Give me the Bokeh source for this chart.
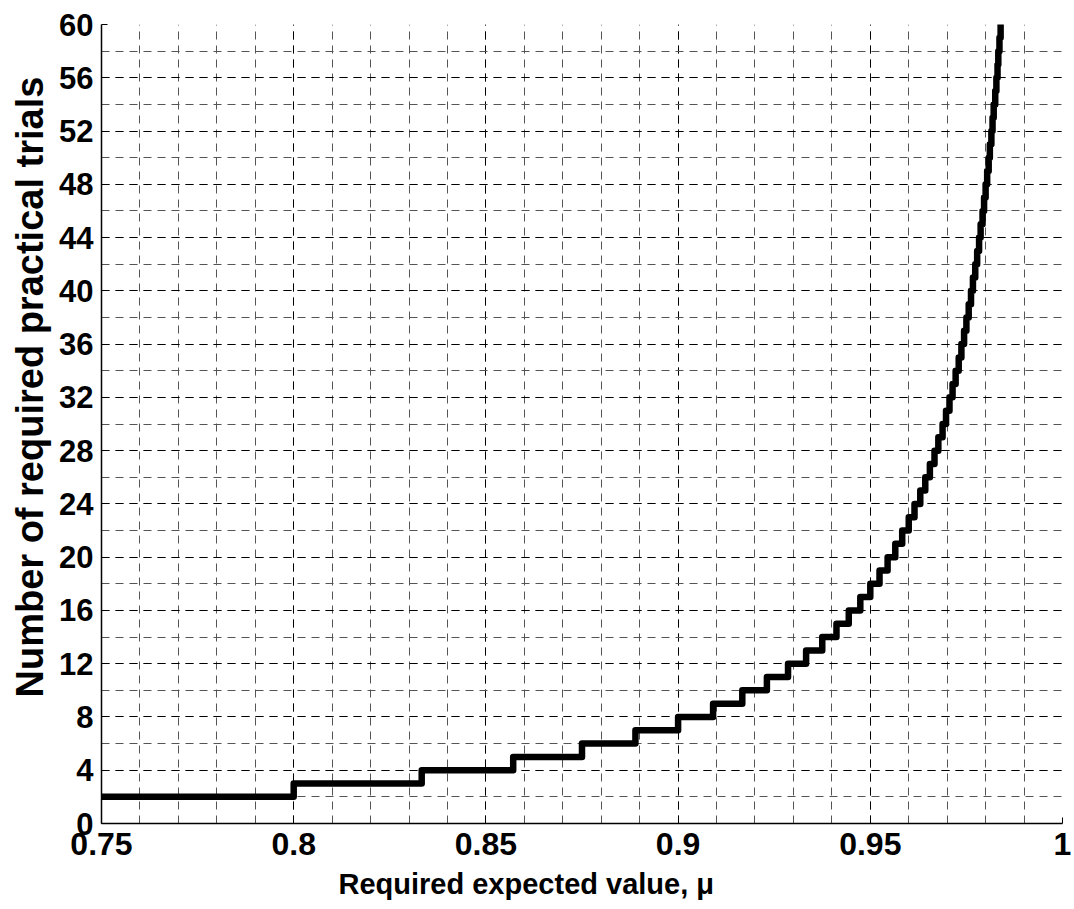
from bokeh.plotting import figure
from bokeh.models import SingleIntervalTicker, Range1d, Title
from bokeh.embed import file_html
from bokeh.resources import INLINE

# Step thresholds (required expected value, mu) where the number of trials increases
mu_start = 0.75
n_start = 2
mu_steps = [0.8, 0.8333, 0.8571, 0.875, 0.8889, 0.9, 0.9091, 0.9167, 0.9231, 0.9286,
            0.9333, 0.9375, 0.9412, 0.9444, 0.9474, 0.95, 0.9524, 0.9545, 0.9565, 0.9583,
            0.96, 0.9615, 0.963, 0.9643, 0.9655, 0.9667, 0.9677, 0.9688, 0.9697, 0.9706,
            0.9714, 0.9722, 0.973, 0.9737, 0.9744, 0.975, 0.9756, 0.9762, 0.9767, 0.9773,
            0.9778, 0.9783, 0.9787, 0.9792, 0.9796, 0.98, 0.9804, 0.9808, 0.9811, 0.9815,
            0.9818, 0.9821, 0.9825, 0.9828, 0.9831, 0.9833, 0.9836, 0.9839]
n_steps = [3, 4, 5, 6, 7, 8, 9, 10, 11, 12, 13, 14, 15, 16, 17, 18, 19, 20, 21, 22,
           23, 24, 25, 26, 27, 28, 29, 30, 31, 32, 33, 34, 35, 36, 37, 38, 39, 40, 41, 42,
           43, 44, 45, 46, 47, 48, 49, 50, 51, 52, 53, 54, 55, 56, 57, 58, 59, 60]

x_tick_labels = {0.75: "0.75", 0.8: "0.8", 0.85: "0.85", 0.9: "0.9", 0.95: "0.95", 1.0: "1"}
x_label = "Required expected value, μ"
y_label = "Number of required practical trials"

xs = [mu_start] + mu_steps
ys = [n_start] + n_steps

FONT = "Liberation Sans"

p = figure(width=1074, height=909, output_backend="svg", toolbar_location=None,
           x_range=Range1d(0.75, 1.0), y_range=Range1d(0, 60),
           min_border_left=101, min_border_right=12, min_border_top=24, min_border_bottom=86)
p.outline_line_color = None
p.background_fill_color = "white"

p.step(xs, ys, mode="after", line_color="black", line_width=6.5, line_join="round", line_cap="round")

p.xaxis.ticker = SingleIntervalTicker(interval=0.05, num_minor_ticks=5)
p.yaxis.ticker = SingleIntervalTicker(interval=4, num_minor_ticks=2)

for ax in (p.xaxis[0], p.yaxis[0]):
    ax.axis_line_color = "black"
    ax.axis_line_width = 1.5
    ax.major_tick_in = 6
    ax.major_tick_out = 0
    ax.minor_tick_in = 0
    ax.minor_tick_out = 0
    ax.major_tick_line_color = "black"
    ax.major_label_text_font = FONT
    ax.major_label_text_font_style = "bold"
    ax.major_label_text_color = "black"

p.xaxis.major_label_text_font_size = "32px"
p.yaxis.major_label_text_font_size = "31px"
p.xaxis.major_label_standoff = 9
p.yaxis.major_label_standoff = 8
p.xaxis.major_label_overrides = x_tick_labels

for g in (p.xgrid[0], p.ygrid[0]):
    g.grid_line_color = "black"
    g.grid_line_dash = "8 6"
    g.grid_line_width = 1
    g.minor_grid_line_color = "#555555"
    g.minor_grid_line_dash = "8 6"
    g.minor_grid_line_width = 1

# axis titles
p.add_layout(Title(text=x_label, align="left", offset=237, standoff=16,
                   text_font=FONT, text_font_style="bold", text_font_size="29px",
                   text_color="black"), "below")
p.add_layout(Title(text=y_label, align="left", offset=126, standoff=12,
                   text_font=FONT, text_font_style="bold", text_font_size="38px",
                   text_color="black"), "left")

open("out.html", "w").write(file_html(p, INLINE))
